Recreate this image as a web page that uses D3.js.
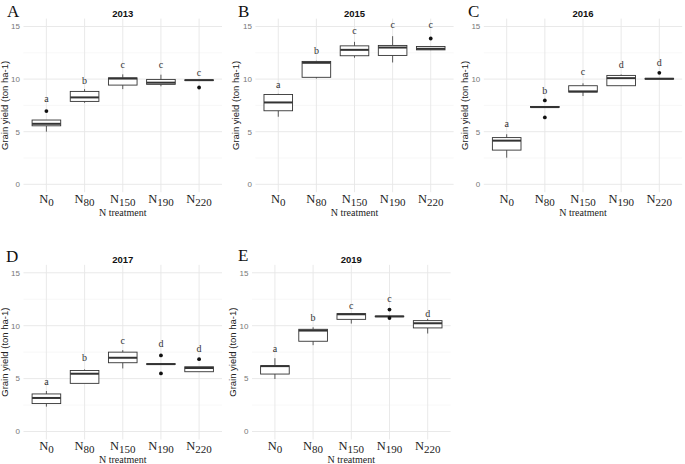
<!DOCTYPE html>
<html>
<head>
<meta charset="utf-8">
<script src="https://cdn.jsdelivr.net/npm/d3@7/dist/d3.min.js"></script>
<style>
  html, body { margin: 0; padding: 0; background: #fff; }
  svg { display: block; }
</style>
</head>
<body>
<svg id="chart" width="685" height="464"></svg>
<script>
// ---------------- DATA ----------------
const treatments = ["0", "80", "150", "190", "220"];   // subscripts of N
const years = ["2013", "2015", "2016", "2017", "2019"];
const panelLetters = ["A", "B", "C", "D", "E"];
const yTicks = [0, 5, 10, 15];
const yMinor = [2.5, 7.5, 12.5];

// box stats per treatment: [lowWhisker, q1, median, q3, highWhisker]
const box2013 = [[5.0, 5.56, 5.75, 6.11, 6.11], [7.75, 7.88, 8.26, 8.83, 9.05], [9.05, 9.43, 10.05, 10.12, 10.45], [9.32, 9.5, 9.66, 9.97, 10.42], [9.85, 9.87, 9.9, 9.92, 9.95]];
const box2015 = [[6.42, 6.99, 7.78, 8.54, 8.6], [10.06, 10.17, 11.55, 11.68, 11.74], [12.03, 12.22, 12.78, 13.16, 13.54], [11.58, 12.25, 13.0, 13.2, 14.08], [12.76, 12.78, 12.88, 13.1, 13.1]];
const box2016 = [[2.53, 3.25, 4.15, 4.44, 4.76], [7.3, 7.31, 7.34, 7.4, 7.42], [8.39, 8.77, 8.83, 9.37, 9.6], [9.37, 9.37, 10.09, 10.35, 10.44], [10.0, 10.0, 10.03, 10.07, 10.07]];
const box2017 = [[2.35, 2.64, 3.17, 3.55, 3.83], [4.55, 4.55, 5.46, 5.77, 5.87], [5.96, 6.5, 6.97, 7.5, 7.69], [6.33, 6.35, 6.37, 6.4, 6.42], [5.65, 5.65, 6.0, 6.12, 6.12]];
const box2019 = [[4.96, 5.43, 6.18, 6.21, 6.93], [8.16, 8.53, 9.54, 9.66, 9.85], [10.2, 10.6, 11.08, 11.14, 11.14], [10.84, 10.85, 10.88, 10.9, 10.92], [9.26, 9.79, 10.23, 10.48, 10.64]];

// outliers per treatment
const out2013 = [[6.96], [], [], [], [9.2]];
const out2015 = [[], [], [], [], [13.86]];
const out2016 = [[], [7.97, 6.36], [], [], [10.6]];
const out2017 = [[], [], [], [7.19, 5.49], [6.84]];
const out2019 = [[], [], [], [11.52, 10.73], []];

// significance letters and their heights
const let2013 = ["a", "b", "c", "c", "c"], letY2013 = [8.1, 9.87, 11.33, 11.33, 10.63];
const let2015 = ["a", "b", "c", "c", "c"], letY2015 = [9.49, 12.69, 14.56, 15.19, 15.19];
const let2016 = ["a", "b", "c", "d", "d"], letY2016 = [5.79, 8.92, 10.7, 11.33, 11.55];
const let2017 = ["a", "b", "c", "d", "d"], letY2017 = [4.74, 6.93, 8.53, 8.25, 7.78];
const let2019 = ["a", "b", "c", "c", "d"], letY2019 = [7.85, 10.76, 11.92, 12.55, 11.14];

const boxes = [box2013, box2015, box2016, box2017, box2019];
const outs = [out2013, out2015, out2016, out2017, out2019];
const lets = [let2013, let2015, let2016, let2017, let2019];
const letYs = [letY2013, letY2015, letY2016, letY2017, letY2019];

// ---------------- LAYOUT ----------------
const panels = [
  { x0: 23.5, x1: 222, y15: 26.5, y0: 184.3, lx: 7, ly: 16.5 },
  { x0: 255.4, x1: 453.6, y15: 26.5, y0: 184.3, lx: 238, ly: 16.5 },
  { x0: 483.8, x1: 682.2, y15: 26.5, y0: 184.3, lx: 468, ly: 16.5 },
  { x0: 23.5, x1: 222, y15: 272.8, y0: 431.5, lx: 6, ly: 261.5 },
  { x0: 252, x1: 450.6, y15: 272.8, y0: 431.5, lx: 238, ly: 260.5 }
];

const svg = d3.select("#chart");
const sans = "'Liberation Sans', Arial, sans-serif";
const serif = "'Liberation Serif', 'Times New Roman', serif";

panels.forEach((p, i) => {
  const g = svg.append("g");
  const unit = (p.y0 - p.y15) / 15;
  const top = p.y15 - 0.75 * unit, bottom = p.y0 + 0.75 * unit;
  const y = d3.scaleLinear().domain([-0.75, 15.75]).range([bottom, top]);
  const x = d3.scalePoint().domain(treatments).range([p.x0, p.x1]).padding(0.6);
  const bw = x.step() * 0.75;

  // minor grid
  g.selectAll(".minor").data(yMinor).join("line")
    .attr("x1", p.x0).attr("x2", p.x1)
    .attr("y1", d => y(d)).attr("y2", d => y(d))
    .attr("stroke", "#f2f2f2").attr("stroke-width", 0.6);
  // major grid
  g.selectAll(".majory").data(yTicks).join("line")
    .attr("x1", p.x0).attr("x2", p.x1)
    .attr("y1", d => y(d)).attr("y2", d => y(d))
    .attr("stroke", "#e6e6e6").attr("stroke-width", 0.9);
  g.selectAll(".majorx").data(treatments).join("line")
    .attr("x1", d => x(d)).attr("x2", d => x(d))
    .attr("y1", top).attr("y2", bottom)
    .attr("stroke", "#e6e6e6").attr("stroke-width", 0.9);

  // y tick labels
  g.selectAll(".ytl").data(yTicks).join("text")
    .attr("x", p.x0 - 3.5).attr("y", d => y(d))
    .attr("dy", "0.35em").attr("text-anchor", "end")
    .attr("font-family", sans).attr("font-size", 8)
    .attr("fill", "#777").text(d => d);

  // x tick labels with subscripts
  const xt = g.selectAll(".xtl").data(treatments).join("text")
    .attr("x", d => x(d)).attr("y", bottom + 11)
    .attr("text-anchor", "middle")
    .attr("font-family", serif).attr("fill", "#222");
  xt.append("tspan").attr("font-size", 12.5).text("N");
  xt.append("tspan").attr("font-size", 11).attr("dy", 3).text(d => d);

  // axis titles
  g.append("text")
    .attr("x", (p.x0 + p.x1) / 2).attr("y", bottom + 24)
    .attr("text-anchor", "middle").attr("font-family", serif)
    .attr("font-size", 10).attr("fill", "#222").text("N treatment");
  g.append("text")
    .attr("transform", `translate(${p.x0 - 16},${(top + bottom) / 2}) rotate(-90)`)
    .attr("text-anchor", "middle").attr("font-family", sans)
    .attr("font-size", 9.5).attr("fill", "#222").text("Grain yield (ton ha-1)");

  // title and panel letter
  g.append("text")
    .attr("x", (p.x0 + p.x1) / 2).attr("y", top - 1.8)
    .attr("text-anchor", "middle").attr("font-family", sans)
    .attr("font-weight", "bold").attr("font-size", 9.5).attr("fill", "#111")
    .text(years[i]);
  g.append("text")
    .attr("x", p.lx).attr("y", p.ly)
    .attr("font-family", serif).attr("font-size", 17).attr("fill", "#111")
    .text(panelLetters[i]);

  // boxplots
  const data = boxes[i].map((s, j) => ({ t: treatments[j], s }));
  const bx = g.selectAll(".box").data(data).join("g");
  bx.append("line") // upper whisker
    .attr("x1", d => x(d.t)).attr("x2", d => x(d.t))
    .attr("y1", d => y(d.s[3])).attr("y2", d => y(d.s[4]))
    .attr("stroke", "#333").attr("stroke-width", 0.8);
  bx.append("line") // lower whisker
    .attr("x1", d => x(d.t)).attr("x2", d => x(d.t))
    .attr("y1", d => y(d.s[1])).attr("y2", d => y(d.s[0]))
    .attr("stroke", "#333").attr("stroke-width", 0.8);
  bx.append("rect")
    .attr("x", d => x(d.t) - bw / 2).attr("width", bw)
    .attr("y", d => y(d.s[3])).attr("height", d => Math.max(0, y(d.s[1]) - y(d.s[3])))
    .attr("fill", "#fff").attr("stroke", "#333").attr("stroke-width", 0.9);
  bx.append("line") // median
    .attr("x1", d => x(d.t) - bw / 2).attr("x2", d => x(d.t) + bw / 2)
    .attr("y1", d => y(d.s[2])).attr("y2", d => y(d.s[2]))
    .attr("stroke", "#333").attr("stroke-width", 2);

  // outliers
  const od = [];
  outs[i].forEach((arr, j) => arr.forEach(v => od.push({ t: treatments[j], v })));
  g.selectAll(".out").data(od).join("circle")
    .attr("cx", d => x(d.t)).attr("cy", d => y(d.v)).attr("r", 1.9)
    .attr("fill", "#111");

  // letters
  g.selectAll(".let").data(lets[i].map((l, j) => ({ l, t: treatments[j], v: letYs[i][j] })))
    .join("text")
    .attr("x", d => x(d.t)).attr("y", d => y(d.v)).attr("dy", "0.32em")
    .attr("text-anchor", "middle").attr("font-family", serif)
    .attr("font-size", 10).attr("fill", "#333").text(d => d.l);
});
</script>
</body>
</html>
